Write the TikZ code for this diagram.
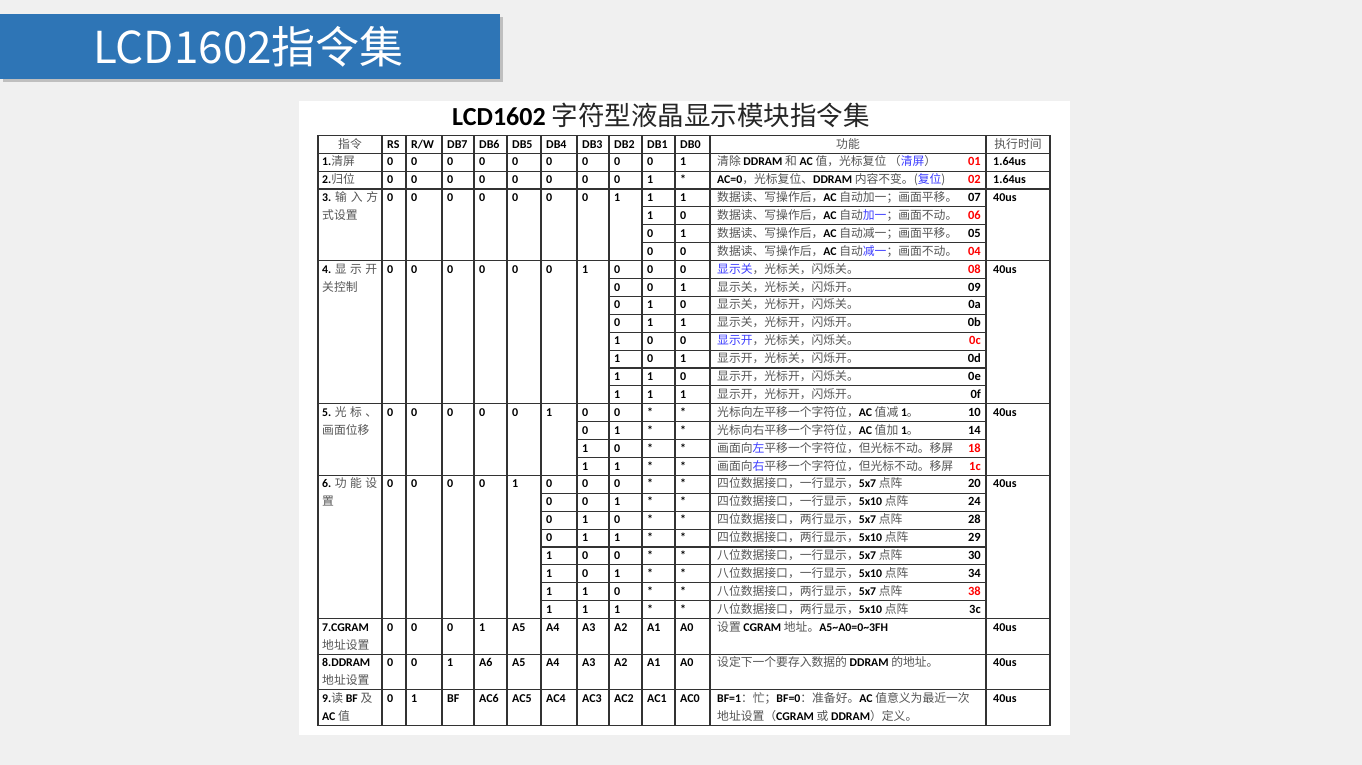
\documentclass[tikz,border=0pt]{standalone}
\usepackage{fontspec}
\setmainfont{Carlito}
\newfontfamily\cjk{Noto Sans CJK SC}
\usepackage{tikz}
\usetikzlibrary{calc}

\definecolor{slidebg}{HTML}{F0F0F0}
\definecolor{bannerblue}{HTML}{2E75B6}
\definecolor{zhgray}{HTML}{555555}
\definecolor{zhblue}{HTML}{3C3CFF}
\definecolor{codered}{HTML}{FF0000}
\newcommand\zh[1]{{\cjk\color{zhgray}#1}}
\newcommand\zhb[1]{{\cjk\color{zhblue}#1}}
\def\bitcols{{382,406,442,474,507,541,577,609,642,675}}
\newcommand\bitrow[4]{%
	\edef\bitlist{#4}%
	\foreach \v [count=\k from #3] in \bitlist {%
		\pgfmathsetmacro\bx{\bitcols[\k]+5}%
		\node[bit] (#1-\k) at (\bx,#2) {\v};}}

\begin{document}
\begin{tikzpicture}[x=1pt,y=-1pt,
	grid/.style={draw=black!80,line width=1.1pt},
	bit/.style={anchor=base west,inner sep=0pt,font=\fontsize{12}{12}\selectfont\bfseries},
	txt/.style={anchor=base west,inner sep=0pt,font=\fontsize{11.8}{12}\selectfont},
	hd/.style={anchor=base,inner sep=0pt,font=\fontsize{11.8}{12}\selectfont},
	code/.style={anchor=base east,inner sep=0pt,font=\fontsize{12.5}{12}\selectfont\bfseries}]
	\useasboundingbox (0,0) rectangle (1362,765);
	\fill[slidebg] (0,0) rectangle (1362,765);
	\fill[black!25] (3,17) rectangle (503,82);
	\fill[bannerblue] (0,14) rectangle (500,79);
	\node[anchor=base west,inner sep=0pt,text=white,font=\cjk\fontsize{44}{44}\selectfont] (banner) at (93,63.5) {LCD1602指令集};
	\fill[white] (299,101) rectangle (1070,735);
	\node[anchor=base west,inner sep=0pt] (title) at (452,125.5) {\fontsize{26}{26}\selectfont\textbf{LCD1602} {\cjk\fontsize{26.5}{26.5}\selectfont\color{black!85}字符型液晶显示模块指令集}};

	\draw[grid] (318,135.5) rectangle (1050,725.1);
	\foreach \x in {382,406,442,474,507,541,577,609,642,675,710,986}
		\draw[grid] (\x,135.5) -- (\x,725.1);
	\foreach \y in {153.2,171.1,189,260.6,403.8,475.4,618.6,654.1,689.6}
		\draw[grid] (318,\y) -- (1050,\y);
	\foreach \k in {1,2,3} {
		\draw[grid] (642,189+17.9*\k) -- (986,189+17.9*\k);
		\draw[grid] (577,403.8+17.9*\k) -- (986,403.8+17.9*\k);}
	\foreach \k in {1,...,7} {
		\draw[grid] (609,260.6+17.9*\k) -- (986,260.6+17.9*\k);
		\draw[grid] (541,475.4+17.9*\k) -- (986,475.4+17.9*\k);}

	\node[hd] (h-cmd) at (350,148) {\zh{指令}};
	\foreach \h [count=\k from 0] in {RS,R/W,DB7,DB6,DB5,DB4,DB3,DB2,DB1,DB0} {
		\pgfmathsetmacro\bx{\bitcols[\k]+5}
		\node[bit] (h-\k) at (\bx,148) {\h};}
	\node[hd] (h-fn) at (848,148) {\zh{功能}};
	\node[hd] (h-time) at (1018,148) {\zh{执行时间}};

	\node[txt] (l1) at (322,165.7) {\textbf{1.}\zh{清屏}};
	\node[txt] (l2) at (322,183.6) {\textbf{2.}\zh{归位}};
	\node[txt] (l3) at (322,201.5) {\hbox to 56pt{\textbf{3.}\hfill\zh{输}\hfill\zh{入}\hfill\zh{方}}};
	\node[txt] (l3b) at (322,219.4) {\zh{式设置}};
	\node[txt] (l4) at (322,273.1) {\hbox to 55pt{\textbf{4.}\hfill\zh{显}\hfill\zh{示}\hfill\zh{开}}};
	\node[txt] (l4b) at (322,291) {\zh{关控制}};
	\node[txt] (l5) at (322,416.3) {\hbox to 55pt{\textbf{5.}\hfill\zh{光}\hfill\zh{标}\hfill\zh{、}}};
	\node[txt] (l5b) at (322,434.2) {\zh{画面位移}};
	\node[txt] (l6) at (322,487.9) {\hbox to 55pt{\textbf{6.}\hfill\zh{功}\hfill\zh{能}\hfill\zh{设}}};
	\node[txt] (l6b) at (322,505.8) {\zh{置}};
	\node[txt] (l7) at (322,631.1) {\textbf{7.CGRAM}};
	\node[txt] (l7b) at (322,649) {\zh{地址设置}};
	\node[txt] (l8) at (322,666.6) {\textbf{8.DDRAM}};
	\node[txt] (l8b) at (322,684.5) {\zh{地址设置}};
	\node[txt] (l9) at (322,702.1) {\textbf{9.}\zh{读} \textbf{BF} \zh{及}};
	\node[txt] (l9b) at (322,720) {\textbf{AC} \zh{值}};

	\bitrow{b1}{165.7}{0}{0,0,0,0,0,0,0,0,0,1}
	\bitrow{b2}{183.6}{0}{0,0,0,0,0,0,0,0,1,*}
	\bitrow{b3}{201.5}{0}{0,0,0,0,0,0,0,1}
	\foreach \bits [count=\j from 0] in {{1,1},{1,0},{0,1},{0,0}}
		{\bitrow{b3-\j}{201.5+17.9*\j}{8}{\bits}}
	\bitrow{b4}{273.1}{0}{0,0,0,0,0,0,1}
	\foreach \bits [count=\j from 0] in {{0,0,0},{0,0,1},{0,1,0},{0,1,1},{1,0,0},{1,0,1},{1,1,0},{1,1,1}}
		{\bitrow{b4-\j}{273.1+17.9*\j}{7}{\bits}}
	\bitrow{b5}{416.3}{0}{0,0,0,0,0,1}
	\foreach \bits [count=\j from 0] in {{0,0,*,*},{0,1,*,*},{1,0,*,*},{1,1,*,*}}
		{\bitrow{b5-\j}{416.3+17.9*\j}{6}{\bits}}
	\bitrow{b6}{487.9}{0}{0,0,0,0,1}
	\foreach \bits [count=\j from 0] in {{0,0,0,*,*},{0,0,1,*,*},{0,1,0,*,*},{0,1,1,*,*},{1,0,0,*,*},{1,0,1,*,*},{1,1,0,*,*},{1,1,1,*,*}}
		{\bitrow{b6-\j}{487.9+17.9*\j}{5}{\bits}}
	\bitrow{b7}{631.1}{0}{0,0,0,1,A5,A4,A3,A2,A1,A0}
	\bitrow{b8}{666.6}{0}{0,0,1,A6,A5,A4,A3,A2,A1,A0}
	\bitrow{b9}{702.1}{0}{0,1,BF,AC6,AC5,AC4,AC3,AC2,AC1,AC0}

	\node[txt] (f1) at (717,165.7) {\zh{清除} \textbf{DDRAM} \zh{和} \textbf{AC} \zh{值，光标复位} \zh{（}\zhb{清屏}\zh{）}};
	\node[code,text=codered] (c1) at (981,165.7) {01};
	\node[txt] (f2) at (717,183.6) {\textbf{AC=0}\zh{，光标复位、}\textbf{DDRAM} \zh{内容不变。(}\zhb{复位}\zh{)}};
	\node[code,text=codered] (c2) at (981,183.6) {02};
	\foreach \t/\cd/\cc [count=\j from 0] in {
		{\zh{数据读、写操作后，}\textbf{AC} \zh{自动加一；画面平移。}}/07/black,
		{\zh{数据读、写操作后，}\textbf{AC} \zh{自动}\zhb{加一}\zh{；画面不动。}}/06/codered,
		{\zh{数据读、写操作后，}\textbf{AC} \zh{自动减一；画面平移。}}/05/black,
		{\zh{数据读、写操作后，}\textbf{AC} \zh{自动}\zhb{减一}\zh{；画面不动。}}/04/codered} {
		\node[txt] (f3-\j) at (717,201.5+17.9*\j) {\t};
		\node[code,text=\cc] (c3-\j) at (981,201.5+17.9*\j) {\cd};}
	\foreach \t/\cd/\cc [count=\j from 0] in {
		{\zhb{显示关}\zh{，光标关，闪烁关。}}/08/codered,
		{\zh{显示关，光标关，闪烁开。}}/09/black,
		{\zh{显示关，光标开，闪烁关。}}/0a/black,
		{\zh{显示关，光标开，闪烁开。}}/0b/black,
		{\zhb{显示开}\zh{，光标关，闪烁关。}}/0c/codered,
		{\zh{显示开，光标关，闪烁开。}}/0d/black,
		{\zh{显示开，光标开，闪烁关。}}/0e/black,
		{\zh{显示开，光标开，闪烁开。}}/0f/black} {
		\node[txt] (f4-\j) at (717,273.1+17.9*\j) {\t};
		\node[code,text=\cc] (c4-\j) at (981,273.1+17.9*\j) {\cd};}
	\foreach \t/\cd/\cc [count=\j from 0] in {
		{\zh{光标向左平移一个字符位，}\textbf{AC} \zh{值减} \textbf{1}\zh{。}}/10/black,
		{\zh{光标向右平移一个字符位，}\textbf{AC} \zh{值加} \textbf{1}\zh{。}}/14/black,
		{\zh{画面向}\zhb{左}\zh{平移一个字符位，但光标不动。移屏}}/18/codered,
		{\zh{画面向}\zhb{右}\zh{平移一个字符位，但光标不动。移屏}}/1c/codered} {
		\node[txt] (f5-\j) at (717,416.3+17.9*\j) {\t};
		\node[code,text=\cc] (c5-\j) at (981,416.3+17.9*\j) {\cd};}
	\foreach \p/\q/\m/\cd/\cc [count=\j from 0] in {四/一/7/20/black,四/一/10/24/black,四/两/7/28/black,四/两/10/29/black,八/一/7/30/black,八/一/10/34/black,八/两/7/38/codered,八/两/10/3c/black} {
		\node[txt] (f6-\j) at (717,487.9+17.9*\j) {\zh{\p 位数据接口，\q 行显示，}\textbf{5x\m} \zh{点阵}};
		\node[code,text=\cc] (c6-\j) at (981,487.9+17.9*\j) {\cd};}
	\node[txt] (f7) at (717,631.1) {\zh{设置} \textbf{CGRAM} \zh{地址。}\textbf{A5\textasciitilde A0=0\textasciitilde 3FH}};
	\node[txt] (f8) at (717,666.6) {\zh{设定下一个要存入数据的} \textbf{DDRAM} \zh{的地址。}};
	\node[txt] (f9) at (717,702.1) {\textbf{BF=1}\zh{：忙；}\textbf{BF=0}\zh{：准备好。}\textbf{AC} \zh{值意义为最近一次}};
	\node[txt] (f9b) at (717,720) {\zh{地址设置（}\textbf{CGRAM} \zh{或} \textbf{DDRAM}\zh{）定义。}};

	\foreach \ty/\tv [count=\j] in {165.7/1.64us,183.6/1.64us,201.5/40us,273.1/40us,416.3/40us,487.9/40us,631.1/40us,666.6/40us,702.1/40us}
		\node[bit] (t\j) at (993,\ty) {\tv};
\end{tikzpicture}
\end{document}
